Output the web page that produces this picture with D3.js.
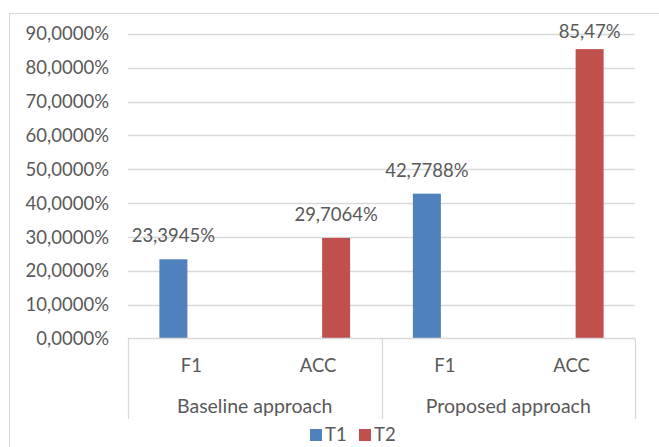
<!DOCTYPE html>
<html>
<head>
<meta charset="utf-8">
<script src="https://cdn.jsdelivr.net/npm/d3@7"></script>
<style>
  html, body { margin: 0; padding: 0; background: #fff; }
  svg { display: block; font-family: Lato, "Open Sans", sans-serif; }
</style>
</head>
<body>
<svg id="chart" width="659" height="447"></svg>
<script>
// Grouped categories: each approach has an F1 and an ACC slot
const groups = ["Baseline approach", "Proposed approach"];
const metrics = ["F1", "ACC"];
const series = ["T1", "T2"];
const seriesColors = ["#4F81BD", "#C0504D"];

// Values in percent, one row per series; null where the series has no bar
const t1Values = [23.3945, null, 42.7788, null];
const t2Values = [null, 29.7064, null, 85.47];
const valueLabels = {
  T1: ["23,3945%", null, "42,7788%", null],
  T2: [null, "29,7064%", null, "85,47%"]
};
const yTicks = [0, 10, 20, 30, 40, 50, 60, 70, 80, 90];
const yTickLabels = ["0,0000%", "10,0000%", "20,0000%", "30,0000%", "40,0000%",
                     "50,0000%", "60,0000%", "70,0000%", "80,0000%", "90,0000%"];

const svg = d3.select("#chart");
const textColor = "#595959";
const lineColor = "#D9D9D9";
const fontSize = 18.5;

// Outer chart frame
svg.append("rect")
  .attr("x", 9.5).attr("y", 13.5)
  .attr("width", 700).attr("height", 500)
  .attr("fill", "none").attr("stroke", lineColor).attr("stroke-width", 1);

const plot = { left: 128, right: 635, top: 33.8, bottom: 338.5 };

// One slot per (group, metric) pair
const slots = [];
groups.forEach(g => metrics.forEach(m => slots.push({ group: g, metric: m })));

const x0 = d3.scaleBand()
  .domain(d3.range(slots.length))
  .range([plot.left, plot.right])
  .padding(0);

const xGroup = d3.scaleBand()
  .domain(groups)
  .range([plot.left, plot.right])
  .padding(0);

// Series offsets relative to a slot centre
const x1 = d3.scaleBand()
  .domain(series)
  .range([-32, 32])
  .paddingInner(2 / 9)
  .paddingOuter(0);

const y = d3.scaleLinear()
  .domain([0, 90])
  .range([plot.bottom, plot.top]);

// Horizontal gridlines
svg.append("g")
  .selectAll("line")
  .data(yTicks.filter(t => t > 0))
  .join("line")
  .attr("x1", plot.left).attr("x2", plot.right)
  .attr("y1", d => Math.round(y(d)) + 0.5)
  .attr("y2", d => Math.round(y(d)) + 0.5)
  .attr("stroke", lineColor).attr("stroke-width", 1.3);

// Y axis tick labels
svg.append("g")
  .selectAll("text")
  .data(yTicks)
  .join("text")
  .attr("x", 109)
  .attr("y", d => y(d))
  .attr("dy", "0.36em")
  .attr("text-anchor", "end")
  .attr("fill", textColor)
  .attr("font-size", fontSize)
  .text((d, i) => yTickLabels[i]);

// Bars
const seriesData = [
  { name: "T1", values: t1Values },
  { name: "T2", values: t2Values }
];

const barData = [];
seriesData.forEach((s, si) => {
  s.values.forEach((v, i) => {
    if (v !== null) barData.push({ series: s.name, color: seriesColors[si], index: i, value: v, label: valueLabels[s.name][i] });
  });
});

const slotCenter = i => x0(i) + x0.bandwidth() / 2;

svg.append("g")
  .selectAll("rect")
  .data(barData)
  .join("rect")
  .attr("x", d => slotCenter(d.index) + x1(d.series))
  .attr("width", x1.bandwidth())
  .attr("y", d => y(d.value))
  .attr("height", d => y(0) - y(d.value))
  .attr("fill", d => d.color);

// Value labels above the bars, kept inside the plot area at the top
svg.append("g")
  .selectAll("text")
  .data(barData)
  .join("text")
  .attr("x", d => slotCenter(d.index) + x1(d.series) + x1.bandwidth() / 2)
  .attr("y", d => Math.max(y(d.value) - 17, 38))
  .attr("text-anchor", "middle")
  .attr("fill", textColor)
  .attr("font-size", fontSize)
  .text(d => d.label);

// Multi-level category axis box
const axisBottom = 419;
const axisG = svg.append("g").attr("stroke", lineColor).attr("stroke-width", 1.3);
axisG.append("line")
  .attr("x1", plot.left).attr("x2", plot.right)
  .attr("y1", 338.5).attr("y2", 338.5);
const groupEdges = [plot.left, ...groups.map(g => xGroup(g) + xGroup.bandwidth())];
axisG.selectAll("line.edge")
  .data(groupEdges)
  .join("line")
  .attr("class", "edge")
  .attr("x1", d => Math.round(d) + 0.5).attr("x2", d => Math.round(d) + 0.5)
  .attr("y1", 338.5).attr("y2", axisBottom);

// Metric labels
svg.append("g")
  .selectAll("text")
  .data(slots)
  .join("text")
  .attr("x", (d, i) => slotCenter(i))
  .attr("y", 372)
  .attr("text-anchor", "middle")
  .attr("fill", textColor)
  .attr("font-size", fontSize)
  .text(d => d.metric);

// Group labels
svg.append("g")
  .selectAll("text")
  .data(groups)
  .join("text")
  .attr("x", d => xGroup(d) + xGroup.bandwidth() / 2)
  .attr("y", 412.5)
  .attr("text-anchor", "middle")
  .attr("fill", textColor)
  .attr("font-size", 19.5)
  .text(d => d);

// Legend
const legendItems = [
  { name: series[0], color: seriesColors[0], x: 310 },
  { name: series[1], color: seriesColors[1], x: 359 }
];
const legend = svg.append("g");
legend.selectAll("rect")
  .data(legendItems)
  .join("rect")
  .attr("x", d => d.x).attr("y", 429)
  .attr("width", 12).attr("height", 12)
  .attr("fill", d => d.color);
legend.selectAll("text")
  .data(legendItems)
  .join("text")
  .attr("x", d => d.x + 15).attr("y", 440.5)
  .attr("fill", textColor)
  .attr("font-size", fontSize)
  .text(d => d.name);
</script>
</body>
</html>
